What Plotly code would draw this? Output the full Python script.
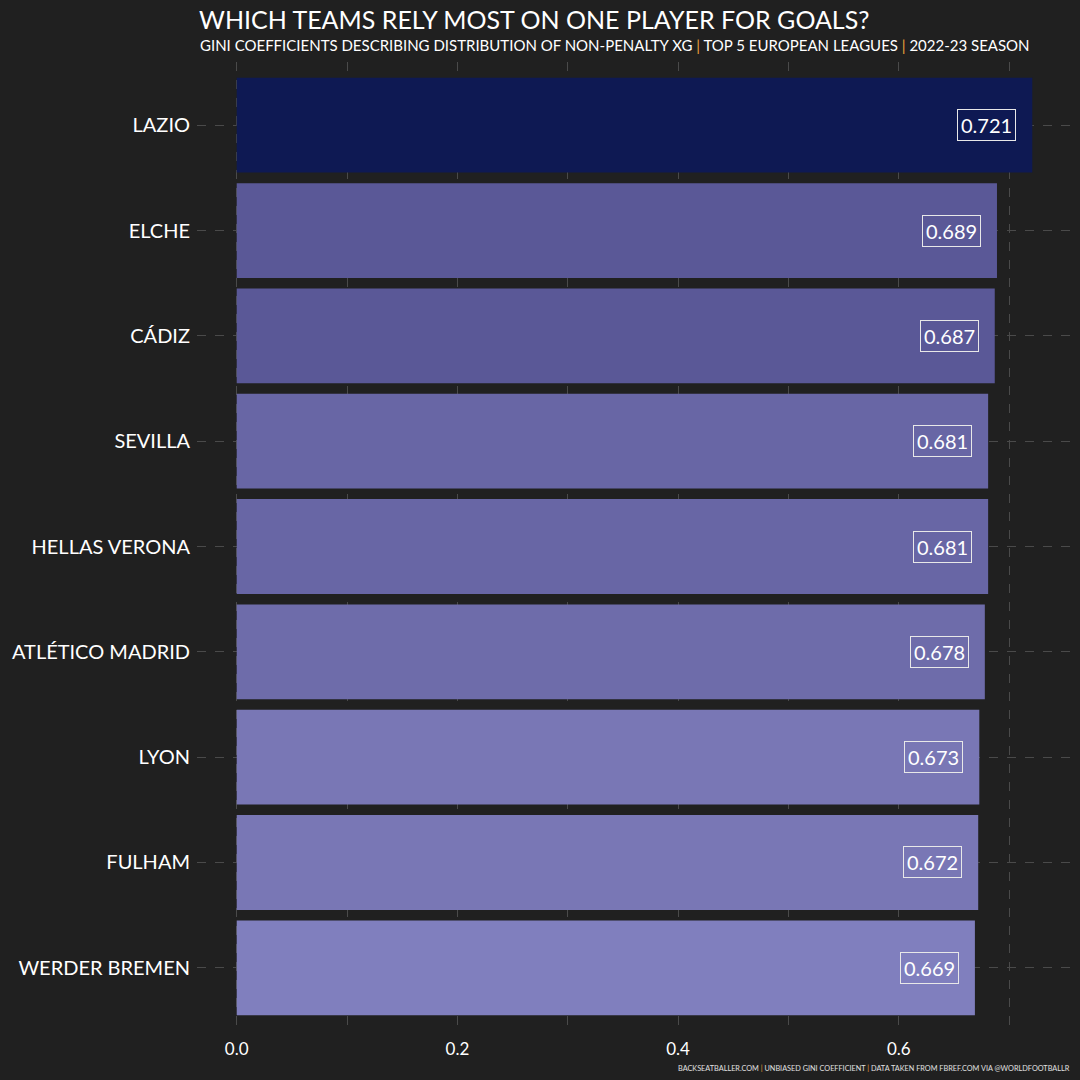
import plotly.graph_objects as go

# teams ordered top to bottom as in the chart
teams = ["LAZIO", "ELCHE", "CÁDIZ", "SEVILLA", "HELLAS VERONA",
         "ATLÉTICO MADRID", "LYON", "FULHAM", "WERDER BREMEN"]
gini = [0.721, 0.689, 0.687, 0.681, 0.681, 0.678, 0.673, 0.672, 0.669]
bar_colors = ["#0E1953", "#5A5897", "#5A5897", "#6866A5", "#6866A5",
              "#6E6CAA", "#7977B5", "#7977B5", "#807FBE"]

title = "WHICH TEAMS RELY MOST ON ONE PLAYER FOR GOALS?"
subtitle_parts = ["GINI COEFFICIENTS DESCRIBING DISTRIBUTION OF NON-PENALTY XG",
                  "TOP 5 EUROPEAN LEAGUES", "2022-23 SEASON"]
caption_parts = ["BACKSEATBALLER.COM", "UNBIASED GINI COEFFICIENT",
                 "DATA TAKEN FROM FBREF.COM VIA @WORLDFOOTBALLR"]

FONT = "Lato"
BG = "#202020"
GRID = "#4a4a4a"
ACCENT = "#E8A33C"

pipe = f" <span style='color:{ACCENT}'>|</span> "

fig = go.Figure()
fig.add_trace(go.Bar(
    x=gini,
    y=teams,
    orientation="h",
    marker=dict(color=bar_colors, line=dict(width=0)),
    width=0.9,
    hoverinfo="x+y",
))

# value labels in boxes near the end of each bar
for team, val, col in zip(teams, gini, bar_colors):
    fig.add_annotation(
        x=val, y=team, text=f"{val:.3f}",
        xanchor="right", yanchor="middle", xshift=-16,
        showarrow=False,
        font=dict(family=FONT, size=20, color="white"),
        bgcolor=col, bordercolor="#e8e8e8", borderwidth=1, borderpad=3,
    )

# title + subtitle
fig.add_annotation(
    x=0, y=1, xref="paper", yref="paper", xanchor="left", yanchor="middle",
    xshift=0, yshift=43, text=title, showarrow=False,
    font=dict(family=FONT, size=25, color="white"),
)
fig.add_annotation(
    x=0, y=1, xref="paper", yref="paper", xanchor="left", yanchor="middle",
    xshift=1, yshift=17, text=pipe.join(subtitle_parts), showarrow=False,
    font=dict(family=FONT, size=15, color="white"),
)

# caption at bottom right
fig.add_annotation(
    x=1.0, y=0, xref="paper", yref="paper", xanchor="right", yanchor="middle",
    yshift=-37, text=pipe.join(caption_parts), showarrow=False,
    font=dict(family=FONT, size=7.3, color="#e0e0e0"),
)

fig.update_layout(
    width=1080, height=1080,
    paper_bgcolor=BG, plot_bgcolor=BG,
    margin=dict(l=197, r=8, t=62, b=49),
    showlegend=False,
    font=dict(family=FONT, color="white"),
    xaxis=dict(
        range=[-0.036, 0.757],
        tickvals=[0, 0.2, 0.4, 0.6],
        ticktext=["0.0", "0.2", "0.4", "0.6"],
        tickfont=dict(family=FONT, size=17, color="white"),
        showgrid=True, gridcolor=GRID, griddash="dash", gridwidth=1.2,
        minor=dict(tickvals=[0.1, 0.3, 0.5, 0.7], showgrid=True,
                   gridcolor=GRID, griddash="dash", gridwidth=1.2),
        zeroline=False, showline=False, ticks="", ticklabelstandoff=6,
    ),
    yaxis=dict(
        range=[8.6, -0.6],
        tickfont=dict(family=FONT, size=20, color="white"),
        showgrid=True, gridcolor=GRID, griddash="dash", gridwidth=1.2,
        zeroline=False, showline=False, ticks="", ticklabelstandoff=6,
    ),
)

# drop the default page margin so the figure fills the window
fig.write_html("out.html", config={"displayModeBar": False},
               post_script="document.body.style.margin='0px';")
